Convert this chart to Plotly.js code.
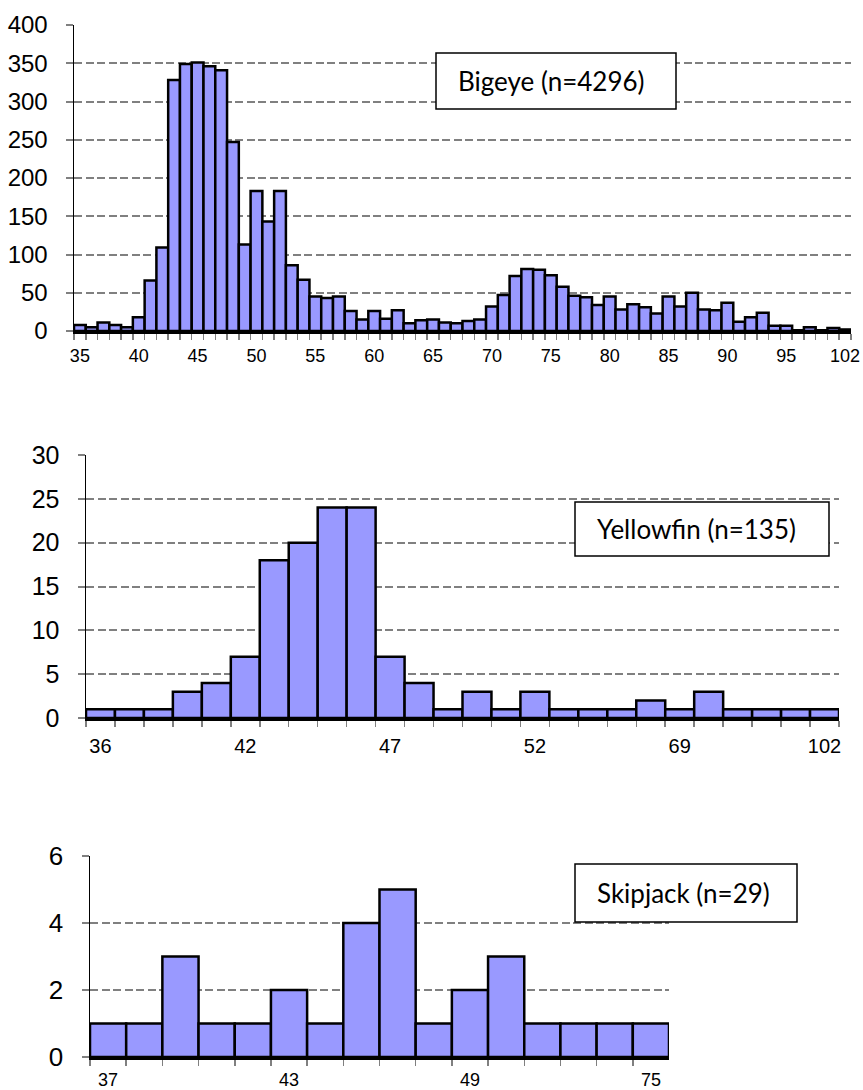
<!DOCTYPE html>
<html>
<head>
<meta charset="utf-8">
<script src="https://cdn.plot.ly/plotly-3.0.1.min.js"></script>
<style>
  html, body { margin: 0; padding: 0; background: #fff; }
  #chart { width: 863px; height: 1090px; }
</style>
</head>
<body>
<div id="chart"></div>
<script>
// ---------- data ----------
const bigeyeLengths = [35,36,37,38,39,40,41,42,43,44,45,46,47,48,49,50,51,52,53,54,
  55,56,57,58,59,60,61,62,63,64,65,66,67,68,69,70,71,72,73,74,
  75,76,77,78,79,80,81,82,83,84,85,86,87,88,89,90,91,92,93,94,
  95,96,97,98,100,102];
const bigeyeCounts = [8,5,11,8,5,18,66,109,328,349,351,346,341,247,113,183,143,183,86,67,
  45,43,45,26,15,26,16,27,10,14,15,11,10,13,15,32,47,72,81,80,
  73,58,46,44,34,45,28,35,31,23,45,32,50,28,27,37,12,18,24,7,
  7,1,5,1,4,2];

const yellowfinLengths = [36,38,39,40,41,42,43,44,45,46,47,48,49,50,51,52,55,58,62,66,69,72,76,81,90,102];
const yellowfinCounts  = [1,1,1,3,4,7,18,20,24,24,7,4,1,3,1,3,1,1,1,2,1,3,1,1,1,1];

const skipjackLengths = [37,38,40,41,42,43,44,45,46,47,49,50,51,53,60,75];
const skipjackCounts  = [1,1,3,1,1,2,1,4,5,1,2,3,1,1,1,1];

const boxLabels = ['Bigeye (n=4296)', 'Yellowfin (n=135)', 'Skipjack (n=29)'];

// ---------- layout helpers ----------
const W = 863, H = 1090;
const px = v => v / W;
const py = v => (H - v) / H;

const barColor = '#9999FF';
const gridColor = '#808080';

function makeTrace(lengths, counts, xa, ya) {
  return {
    type: 'bar',
    x: lengths.map(String),
    y: counts,
    xaxis: xa, yaxis: ya,
    marker: { color: barColor, line: { color: '#000', width: 2.5 } },
    hoverinfo: 'x+y',
    showlegend: false
  };
}

function xAxis(lengths, domain, anchor, fontSize, standoff) {
  const cats = lengths.map(String);
  return {
    type: 'category',
    domain: domain,
    anchor: anchor,
    categoryorder: 'array',
    categoryarray: cats,
    tickmode: 'array',
    tickvals: cats,
    ticktext: cats.map((c, i) => (i % 5 === 0 ? c : '')),
    tickson: 'boundaries',
    ticks: 'outside',
    ticklen: 6,
    tickwidth: 1.5,
    tickcolor: '#808080',
    ticklabelstandoff: standoff,
    showline: true,
    linecolor: '#000',
    linewidth: 2.5,
    showgrid: false,
    zeroline: false,
    tickangle: 0,
    tickfont: { family: '"Liberation Sans Narrow", "Arial Narrow", "Liberation Sans", Arial, sans-serif', size: fontSize, color: '#000' },
    fixedrange: true
  };
}

function yAxis(domain, anchor, maxVal, step, fontSize) {
  return {
    domain: domain,
    anchor: anchor,
    range: [0, maxVal],
    dtick: step,
    tick0: 0,
    ticks: 'outside',
    ticklen: 7,
    tickwidth: 2,
    tickcolor: '#808080',
    ticklabelstandoff: 13,
    showline: true,
    linecolor: '#000',
    linewidth: 1.5,
    showgrid: true,
    gridcolor: gridColor,
    gridwidth: 2,
    griddash: '8px,3.5px',
    zeroline: false,
    tickfont: { family: '"Liberation Sans", Arial, sans-serif', size: fontSize, color: '#000' },
    fixedrange: true
  };
}

const data = [
  makeTrace(bigeyeLengths, bigeyeCounts, 'x', 'y'),
  makeTrace(yellowfinLengths, yellowfinCounts, 'x2', 'y2'),
  makeTrace(skipjackLengths, skipjackCounts, 'x3', 'y3')
];

const boxes = [
  { x0: 436, x1: 676, y0: 53, y1: 109 },
  { x0: 575, x1: 829, y0: 502, y1: 556 },
  { x0: 575, x1: 797, y0: 864, y1: 922 }
];

const shapes = boxes.map(b => ({
  type: 'rect', xref: 'paper', yref: 'paper',
  x0: px(b.x0), x1: px(b.x1), y0: py(b.y1), y1: py(b.y0),
  fillcolor: '#fff', line: { color: '#000', width: 1.5 }, layer: 'above'
}));

const annotations = boxes.map((b, i) => ({
  xref: 'paper', yref: 'paper',
  x: px(b.x0 + 20), y: py((b.y0 + b.y1) / 2),
  xanchor: 'left', yanchor: 'middle',
  text: boxLabels[i],
  showarrow: false,
  font: { family: 'Lato, "Open Sans", sans-serif', size: 26, color: '#000' }
}));

const layout = {
  width: W, height: H,
  margin: { l: 0, r: 0, t: 0, b: 0 },
  paper_bgcolor: '#fff',
  plot_bgcolor: '#fff',
  bargap: 0,
  showlegend: false,
  xaxis:  xAxis(bigeyeLengths, [px(74), px(851)], 'y', 18, 7),
  yaxis:  yAxis([py(331), py(25)], 'x', 400, 50, 24),
  xaxis2: xAxis(yellowfinLengths, [px(86), px(839)], 'y2', 20, 8),
  yaxis2: yAxis([py(718), py(455)], 'x2', 30, 5, 25),
  xaxis3: xAxis(skipjackLengths, [px(90), px(669)], 'y3', 18, 5),
  yaxis3: yAxis([py(1057), py(856)], 'x3', 6, 2, 26),
  shapes: shapes,
  annotations: annotations
};

Plotly.newPlot('chart', data, layout, { displayModeBar: false, staticPlot: true });
</script>
</body>
</html>
